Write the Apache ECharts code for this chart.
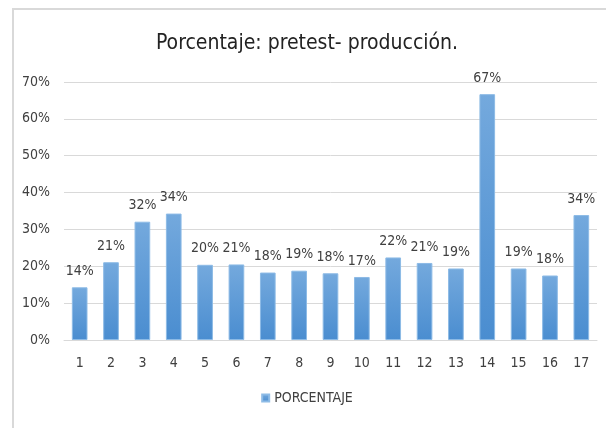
<!DOCTYPE html>
<html>
<head>
<meta charset="utf-8">
<script src="https://cdn.jsdelivr.net/npm/echarts@6/dist/echarts.min.js"></script>
<style>
  html, body { margin: 0; padding: 0; background: #fff; }
  #frame {
    position: absolute; left: 12px; top: 8px; width: 592px; bottom: 0;
    border-top: 2px solid #d9d9d9; border-left: 2px solid #d9d9d9;
  }
  #chart { position: absolute; left: 0; top: 0; width: 614px; height: 428px; }
</style>
</head>
<body>
<div id="frame"></div>
<div id="chart"></div>
<script>
// categorias y valores (%)
var categories = ['1', '2', '3', '4', '5', '6', '7', '8', '9', '10', '11', '12', '13', '14', '15', '16', '17'];
var porcentaje = [14.3, 21.1, 32.1, 34.3, 20.4, 20.5, 18.3, 18.8, 18.1, 17.1, 22.4, 20.9, 19.4, 66.7, 19.4, 17.5, 33.9];
var yTicks = [0, 10, 20, 30, 40, 50, 60, 70];

var font = "'Liberation Sans Narrow', 'DejaVu Sans Condensed', 'Noto Sans', sans-serif";
var myChart = echarts.init(document.getElementById('chart'));

var option = {
    animation: false,
    title: {
        text: 'Porcentaje: pretest- producción.',
        left: 'center',
        top: 28,
        textStyle: { fontFamily: font, fontSize: 21, fontWeight: 'normal', color: '#222' }
    },
    legend: {
        data: ['PORCENTAJE'],
        bottom: 18,
        left: 'center',
        itemWidth: 7,
        itemHeight: 7,
        itemGap: 5,
        icon: 'rect',
        textStyle: { fontFamily: font, fontSize: 14, color: '#404040' }
    },
    grid: { left: 64, right: 17, top: 82, bottom: 88 },
    xAxis: {
        type: 'category',
        data: categories,
        axisTick: { show: false },
        axisLine: { lineStyle: { color: '#d9d9d9', width: 1 } },
        axisLabel: { fontFamily: font, fontSize: 14, color: '#404040', margin: 16 }
    },
    yAxis: {
        type: 'value',
        min: yTicks[0],
        max: yTicks[yTicks.length - 1],
        interval: 10,
        axisLine: { show: false },
        axisTick: { show: false },
        splitLine: { lineStyle: { color: '#d9d9d9', width: 1 } },
        axisLabel: {
            fontFamily: font, fontSize: 14, color: '#404040', margin: 14,
            formatter: function (v) { return v + '%'; }
        }
    },
    series: [
        {
            name: 'PORCENTAJE',
            type: 'bar',
            data: porcentaje,
            barWidth: '50%',
            itemStyle: {
                color: new echarts.graphic.LinearGradient(0, 0, 0, 1, [
                    { offset: 0, color: '#74a9dd' },
                    { offset: 1, color: '#4a8dd0' }
                ]),
                borderColor: '#8dbbe6',
                borderWidth: 1
            },
            label: {
                show: true,
                position: 'top',
                distance: 9,
                fontFamily: font,
                fontSize: 14,
                color: '#404040',
                formatter: function (p) { return Math.round(p.value) + '%'; }
            }
        }
    ]
};

option && myChart.setOption(option);
</script>
</body>
</html>
